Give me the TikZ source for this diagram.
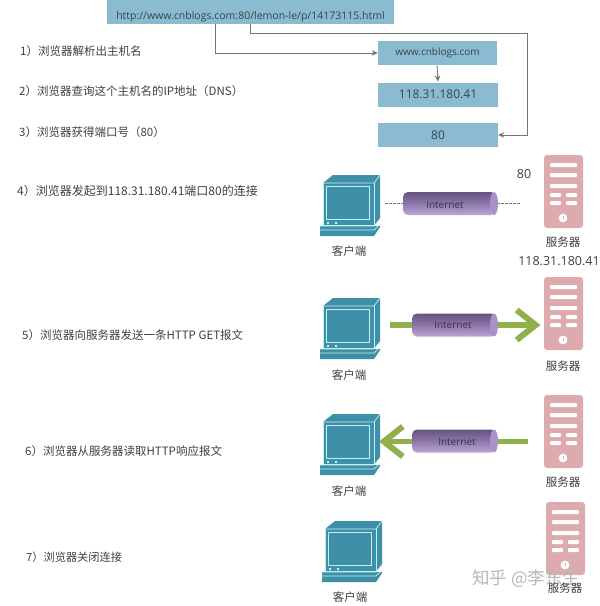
\documentclass[tikz,border=0pt]{standalone}
\usepackage{fontspec}
\setmainfont{Noto Sans CJK SC}
\newfontfamily\latinf{Open Sans}
\usetikzlibrary{arrows.meta,calc}
\definecolor{boxblue}{HTML}{8ABBD0}
\definecolor{boxtext}{HTML}{36444C}
\definecolor{txt}{HTML}{404040}
\definecolor{teal}{HTML}{3E8FA8}
\definecolor{teallt}{HTML}{C4F0F4}
\definecolor{srv}{HTML}{DDAAAD}
\definecolor{grn}{HTML}{8FB04A}
\definecolor{pdark}{HTML}{64547F}
\definecolor{pmid}{HTML}{8C76AA}
\definecolor{plight}{HTML}{BDA6D6}
\definecolor{pend}{HTML}{AB90CA}
\definecolor{conn}{HTML}{757575}
\tikzset{
  x=1pt,y=-1pt,
  bluebox/.style={fill=boxblue,text=boxtext,inner sep=0pt,font=\fontsize{#1}{#1}\selectfont\latinf},
  stepnote/.style={anchor=west,inner sep=0pt,text=txt,font=\fontsize{11.5}{12}\selectfont},
  devlabel/.style={inner sep=0pt,text=txt,font=\fontsize{11.5}{12}\selectfont},
  numlabel/.style={inner sep=0pt,text=txt,font=\fontsize{12.5}{13}\selectfont\latinf},
  netlabel/.style={inner sep=0pt,text=pdark!60!black,font=\fontsize{10}{10}\selectfont\latinf},
  greyarrow/.style={draw=conn,line width=0.9pt,-{Stealth[length=6pt,width=5.5pt]}},
  dashlink/.style={draw=conn,line width=0.6pt,dash pattern=on 2.5pt off 1.5pt},
  greenlink/.style={draw=grn,line width=5.5pt},
  greenhead/.style={draw=grn,line width=5.5pt,-{Straight Barb[length=19pt,width=30pt,line width=6pt]}},
  computer/.pic={
    \fill[teal] (3,8) -- (13,0) -- (60,0) -- (60,43) -- (54,51) -- (60,51) -- (60,52) -- (54,61) -- (0,61) -- (0,51) -- (3,51) -- cycle;
    \draw[teallt,line width=0.7pt] (3,8) -- (54,8) -- (60,0);
    \draw[teallt,line width=0.7pt] (3,8) -- (3,50) -- (54,50) -- (54,8);
    \draw[teallt,line width=0.7pt] (6,11) rectangle (49,44);
    \draw[teallt,line width=0.7pt] (0,51) -- (54,51) -- (60,44);
    \draw[teallt,line width=0.7pt] (0,55) -- (54,55) -- (60,49);
    \fill[teallt] (7,47) rectangle (9,49) (15,47) rectangle (17,49);
    \node[minimum width=60pt,minimum height=61pt,inner sep=0pt] (-body) at (30,30.5) {};
  },
  server/.pic={
    \fill[srv,rounded corners=3pt] (0,0) rectangle (39,73);
    \foreach \yy in {10,20,31} \fill[white,rounded corners=1pt] (6,\yy-2) rectangle (33,\yy+2);
    \foreach \yy in {40,48} {
      \fill[white,rounded corners=1pt] (6,\yy-2) rectangle (17,\yy+2);
      \fill[white,rounded corners=1pt] (22,\yy-2) rectangle (33,\yy+2);
    }
    \fill[white] (19,63) circle[radius=4.4pt];
    \draw[srv,line width=0.8pt] (19,61) -- (19,64);
    \node[minimum width=39pt,minimum height=73pt,inner sep=0pt] (-body) at (19.5,36.5) {};
  },
  netcyl/.pic={
    \shade[top color=pdark,bottom color=plight,middle color=pmid,rounded corners=5pt]
      (-#1/2,-11.5) rectangle (#1/2-2,11.5);
    \fill[pend] (#1/2-4,0) ellipse[x radius=4pt,y radius=11.5pt];
    \node[minimum width=#1 pt,minimum height=23pt,inner sep=0pt] (-body) at (0,0) {};
  },
}
\begin{document}
\begin{tikzpicture}
\useasboundingbox (0,0) rectangle (600,606);
\clip (0,0) rectangle (600,606);
\fill[white] (0,0) rectangle (600,606);

% top boxes
\node[bluebox=10.5,minimum width=287pt,minimum height=26pt,text depth=0pt] (url) at (250.5,11) {\raisebox{-8pt}{http://www.cnblogs.com:80/lemon-le/p/14173115.html}};
\node[bluebox=10,minimum width=119pt,minimum height=24pt] (host) at (437.5,53) {www.cnblogs.com};
\node[bluebox=12,minimum width=120pt,minimum height=24pt] (ip) at (438,94.5) {118.31.180.41};
\node[bluebox=12,minimum width=120pt,minimum height=24pt] (port) at (438,135) {80};

\coordinate (hostdrop) at (215,24);
\coordinate (portdrop) at (250,24);
\draw[greyarrow] (hostdrop) |- (host.west);
\draw[greyarrow,rounded corners=0pt] (portdrop) -- (250,33) -- (527,33) -- (527,135) -- (port.east);
\draw[greyarrow] (437,65.5) -- (438,81.5);

% step notes
\node[stepnote] (s1) at (20,51) {1）浏览器解析出主机名};
\node[stepnote] (s2) at (19,91) {2）浏览器查询这个主机名的IP地址（DNS）};
\node[stepnote] (s3) at (19,132) {3）浏览器获得端口号（80）};
\node[stepnote,font=\fontsize{12}{12}\selectfont] (s4) at (17,191) {4）浏览器发起到118.31.180.41端口80的连接};
\node[stepnote] (s5) at (22,335) {5）浏览器向服务器发送一条HTTP GET报文};
\node[stepnote] (s6) at (25,451) {6）浏览器从服务器读取HTTP响应报文};
\node[stepnote,font=\fontsize{11.2}{12}\selectfont] (s7) at (26,557) {7）浏览器关闭连接};

% row 1
\pic (c1) at (320,175) {computer};
\pic (v1) at (544,155) {server};
\coordinate (d1a) at (385,203.5);
\coordinate (d1b) at (520,203.5);
\draw[dashlink] (d1a) -- (498,203.5) -- (d1b);
\pic (n1) at (450.5,203.5) {netcyl=95};
\node[netlabel] (n1t) at (445,205) {Internet};
\node[devlabel] (c1t) at (349,251) {客户端};
\node[devlabel] (v1t) at (563,242) {服务器};
\node[numlabel] (v1ip) at (559,261) {118.31.180.41};
\node[numlabel] (p80) at (524,174) {80};

% row 2
\pic (c2) at (320,298) {computer};
\pic (v2) at (544,277) {server};
\coordinate (g2a) at (390,325);
\coordinate (g2b) at (540.5,325);
\draw[greenlink] (g2a) -- (415,325);
\draw[greenhead] (495,325) -- (g2b);
\pic (n2) at (455,325) {netcyl=86};
\node[netlabel] (n2t) at (453,325) {Internet};
\node[devlabel] (c2t) at (349,375) {客户端};
\node[devlabel] (v2t) at (563,366) {服务器};

% row 3
\pic (c3) at (320,414) {computer};
\pic (v3) at (544,395) {server};
\coordinate (g3a) at (528,441.5);
\coordinate (g3b) at (379,441.5);
\draw[greenlink] (g3a) -- (495,441.5);
\draw[greenhead] (415,441.5) -- (g3b);
\pic (n3) at (455,441) {netcyl=86};
\node[netlabel] (n3t) at (457,442) {Internet};
\node[devlabel] (c3t) at (349,491) {客户端};
\node[devlabel] (v3t) at (563,482.5) {服务器};

% row 4
\pic (c4) at (322,521) {computer};
\pic (v4) at (546,502) {server};
\node[devlabel] (c4t) at (350,597) {客户端};
\node[inner sep=0pt,anchor=west,text=black!28,font=\fontsize{17.5}{18}\selectfont] (wm) at (472,579) {知乎 @李东生};
\node[devlabel] (v4t) at (565,588) {服务器};
\end{tikzpicture}
\end{document}
